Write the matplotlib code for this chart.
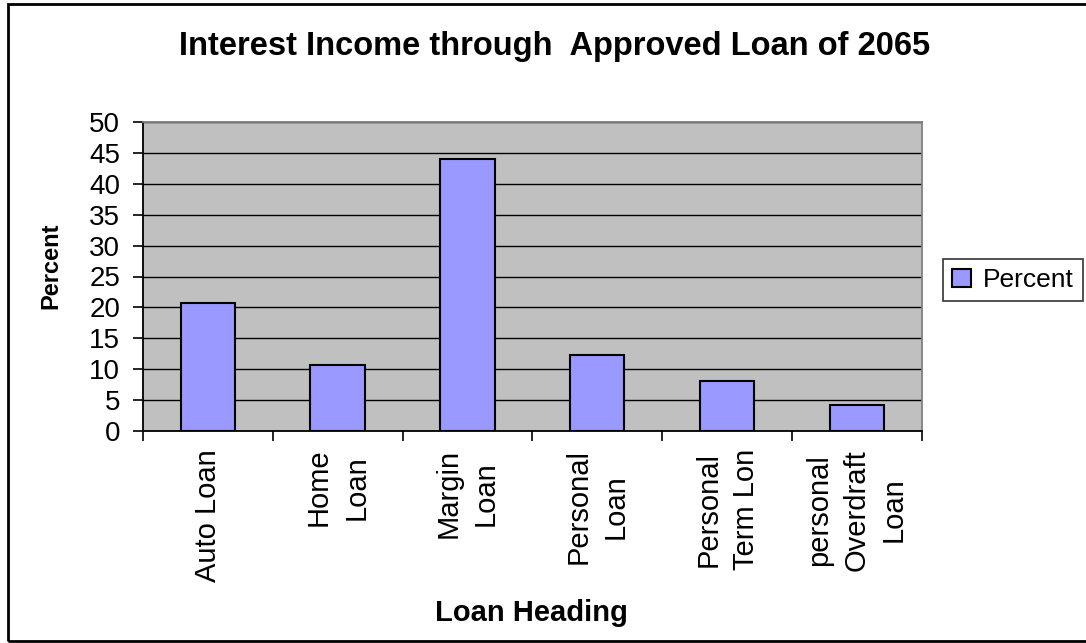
import numpy as np
import matplotlib
matplotlib.use("Agg")
import matplotlib.pyplot as plt
from matplotlib.patches import Rectangle

plt.rcParams['font.family'] = ['Liberation Sans', 'DejaVu Sans']

# data
categories = ["Auto Loan", "Home\nLoan", "Margin\nLoan", "Personal\nLoan",
              "Personal\nTerm Lon", "personal\nOverdraft\nLoan"]
percent = [20.7, 10.6, 44.1, 12.3, 8.1, 4.2]
yticks = [0, 5, 10, 15, 20, 25, 30, 35, 40, 45, 50]

W, H = 1086, 643
fig = plt.figure(figsize=(W / 100, H / 100), dpi=100)
fig.patch.set_facecolor("white")

# axes placed in pixel coords
left, right, top, bottom = 143, 921.7, 122.3, 430.7
ax = fig.add_axes([left / W, 1 - bottom / H, (right - left) / W, (bottom - top) / H])
ax.set_facecolor("#C0C0C0")

x = np.arange(len(categories))
ax.bar(x, percent, width=0.42, color="#9999FF", edgecolor="black",
       linewidth=1.5, zorder=3, label="Percent")

ax.set_xlim(-0.5, len(categories) - 0.5)
ax.set_ylim(0, 50)
ax.set_yticks(yticks)
ax.set_yticklabels([str(v) for v in yticks], fontsize=20)
ax.yaxis.grid(True, color="black", linewidth=1.0, zorder=1)
ax.set_axisbelow(True)

# category labels at centres, tick marks at the boundaries
ax.set_xticks(x)
ax.set_xticklabels(categories, rotation=90, fontsize=21, va="top",
                   ha="center", multialignment="center", linespacing=1.42)
ax.set_xticks(np.arange(len(categories) + 1) - 0.5, minor=True)
ax.tick_params(axis="x", which="major", length=0, pad=13)
ax.tick_params(axis="x", which="minor", length=7.5, width=1.2, color="black", direction="out")
ax.tick_params(axis="y", length=7.5, width=1.2, color="black", direction="out", pad=9)

for side in ["left", "bottom"]:
    ax.spines[side].set_color("black")
    ax.spines[side].set_linewidth(1.3)
for side in ["top", "right"]:
    ax.spines[side].set_color("#808080")
    ax.spines[side].set_linewidth(1.3)

# titles
fig.text(555 / W, 1 - 47 / H, "Interest Income through  Approved Loan of 2065",
         ha="center", va="center", fontsize=23.5, fontweight="bold")
fig.text(531.5 / W, 1 - 613 / H, "Loan Heading", ha="center", va="center",
         fontsize=21, fontweight="bold")
fig.text(51 / W, 1 - 266 / H, "Percent", ha="center", va="center",
         rotation=90, fontsize=17, fontweight="bold")

# legend, runs off the right edge like the reference
leg = fig.legend(loc="center left", bbox_to_anchor=(943 / W, 1 - 280 / H),
                 fontsize=19, frameon=True, fancybox=False, shadow=False,
                 handlelength=0.7, handleheight=0.7, handletextpad=0.45,
                 borderpad=0.35, borderaxespad=0)
leg.get_frame().set_edgecolor("black")
leg.get_frame().set_linewidth(1.2)

# outer chart border
fig.patches.append(Rectangle((7.5 / W, 1 - 641 / H), (1095 - 7.5) / W, (641 - 4) / H,
                             transform=fig.transFigure, fill=False,
                             edgecolor="black", linewidth=2.0))

fig.savefig("out.png", dpi=100)
